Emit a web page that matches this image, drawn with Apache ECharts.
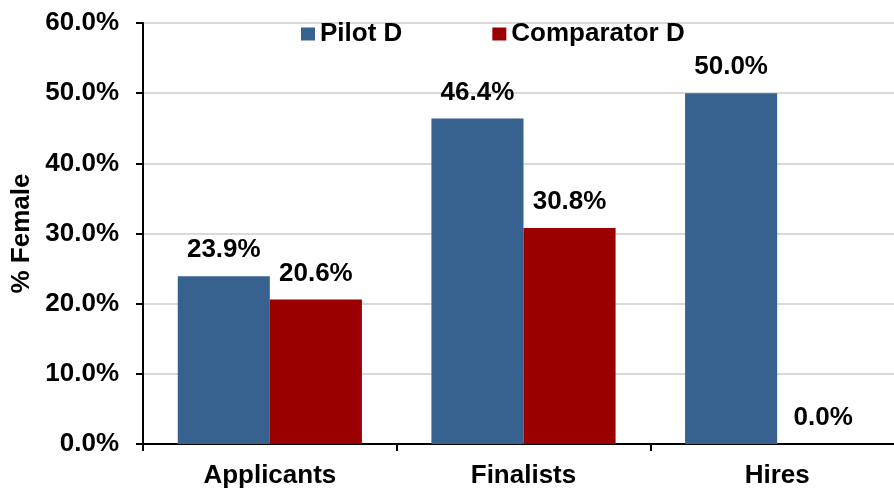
<!DOCTYPE html>
<html>
<head>
<meta charset="utf-8">
<script src="https://cdn.jsdelivr.net/npm/echarts@6/dist/echarts.min.js"></script>
<style>
html,body{margin:0;padding:0;background:#fff;}
#chart{width:894px;height:491px;}
</style>
</head>
<body>
<div id="chart"></div>
<script>
var categories = ['Applicants', 'Finalists', 'Hires'];
var pilotD = [23.9, 46.4, 50.0];
var comparatorD = [20.6, 30.8, 0.0];
var yTicks = [0, 10, 20, 30, 40, 50, 60];

var fontFam = '"Liberation Sans", Arial, sans-serif';
var fontSz = 26;
var chart = echarts.init(document.getElementById('chart'));

//柱子上方标签
function barLabel() {
    return {
        show: true,
        position: 'top',
        distance: 13,
        formatter: function (p) { return p.value.toFixed(1) + '%'; },
        fontFamily: fontFam,
        fontWeight: 'bold',
        fontSize: fontSz,
        color: '#000'
    };
}

var option = {
    animation: false,
    backgroundColor: '#fff',
    textStyle: { fontFamily: fontFam },
    legend: {
        top: 21,
        left: 301,
        padding: 0,
        itemWidth: 14,
        itemHeight: 13,
        itemGap: 90,
        icon: 'rect',
        textStyle: { fontFamily: fontFam, fontWeight: 'bold', fontSize: fontSz, color: '#000' },
        data: ['Pilot D', 'Comparator D']
    },
    grid: { left: 143, width: 761, top: 23, bottom: 47, containLabel: false, outerBoundsMode: 'none' },
    xAxis: {
        type: 'category',
        data: categories,
        axisLine: { lineStyle: { color: '#000', width: 2 } },
        axisTick: { show: true, length: 7, lineStyle: { color: '#000', width: 2 } },
        axisLabel: { margin: 19, fontFamily: fontFam, fontWeight: 'bold', fontSize: fontSz, color: '#000' }
    },
    yAxis: {
        type: 'value',
        min: yTicks[0],
        max: yTicks[yTicks.length - 1],
        interval: 10,
        name: '% Female',
        nameLocation: 'middle',
        nameGap: 107,
        nameRotate: 90,
        nameTextStyle: { fontFamily: fontFam, fontWeight: 'bold', fontSize: fontSz, color: '#000' },
        axisLine: { show: true, lineStyle: { color: '#000', width: 2 } },
        axisTick: { show: true, length: 7, lineStyle: { color: '#000', width: 2 } },
        axisLabel: {
            margin: 24,
            formatter: function (v) { return v.toFixed(1) + '%'; },
            fontFamily: fontFam, fontWeight: 'bold', fontSize: fontSz, color: '#000'
        },
        splitLine: { show: true, lineStyle: { color: '#d9d9d9', width: 2 } }
    },
    series: [
        {
            name: 'Pilot D',
            type: 'bar',
            data: pilotD,
            barWidth: '36.3%',
            barGap: '0%',
            itemStyle: { color: '#37618f' },
            label: barLabel()
        },
        {
            name: 'Comparator D',
            type: 'bar',
            data: comparatorD,
            barWidth: '36.3%',
            itemStyle: { color: '#9b0000' },
            label: barLabel()
        }
    ]
};
chart.setOption(option);
</script>
</body>
</html>
